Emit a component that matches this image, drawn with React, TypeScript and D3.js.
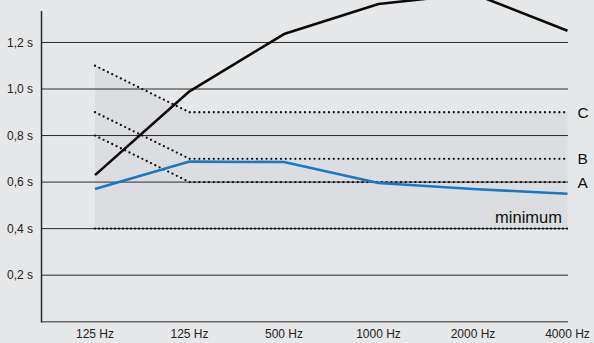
import React from "react";
import * as d3 from "d3";

const categories = ["125 Hz", "125 Hz", "500 Hz", "1000 Hz", "2000 Hz", "4000 Hz"];
const measuredBlack = [0.63, 0.99, 1.236, 1.365, 1.41, 1.25];
const measuredBlue = [0.57, 0.688, 0.686, 0.596, 0.57, 0.55];
const limitC = [1.1, 0.9, 0.9, 0.9, 0.9, 0.9];
const limitB = [0.9, 0.7, 0.7, 0.7, 0.7, 0.7];
const limitA = [0.8, 0.6, 0.6, 0.6, 0.6, 0.6];
const limitMin = [0.4, 0.4, 0.4, 0.4, 0.4, 0.4];
const yTicks = [0.2, 0.4, 0.6, 0.8, 1.0, 1.2];
const yTickLabels = ["0,2 s", "0,4 s", "0,6 s", "0,8 s", "1,0 s", "1,2 s"];

const W = 594;
const H = 343;
const FONT = "'Liberation Sans', Arial, Helvetica, sans-serif";

export default function App() {
  const idx = categories.map((_, i) => i);
  const x = d3.scalePoint<number>().domain(idx).range([95, 567.5]);
  const y0 = 321.7;
  const pxPer = 232.7;
  const y = d3.scaleLinear().domain([0, 1.4]).range([y0, y0 - 1.4 * pxPer]);
  const axisLeft = 41.5;
  const axisRight = 568;

  const line = d3
    .line<number>()
    .x((_, i) => x(i) as number)
    .y((d) => y(d));

  const area = d3
    .area<number>()
    .x((_, i) => x(i) as number)
    .y0((_, i) => y(limitMin[i]))
    .y1((d) => y(d));

  const dotted = (gap: number) => ({
    fill: "none",
    stroke: "#111",
    strokeWidth: 2.3,
    strokeLinecap: "round" as const,
    strokeDasharray: `0 ${gap}`,
  });

  const last = idx.length - 1;

  return (
    <svg
      width={W}
      height={H}
      style={{ position: "absolute", left: 0, top: 0, display: "block" }}
      fontFamily={FONT}
    >
      <rect x={0} y={0} width={W} height={H} fill="#e6e7e9" />
      <path d={area(limitC) as string} fill="#dcdde0" />
      {yTicks.map((t, i) => (
        <g key={t}>
          <line
            x1={axisLeft}
            x2={axisRight}
            y1={y(t)}
            y2={y(t)}
            stroke="#2a2a2a"
            strokeWidth={1}
          />
          <text
            x={33}
            y={y(t)}
            dy="0.35em"
            textAnchor="end"
            fontSize={12}
            fill="#222"
          >
            {yTickLabels[i]}
          </text>
        </g>
      ))}
      <line x1={axisLeft} x2={axisRight} y1={y0} y2={y0} stroke="#666" strokeWidth={1.5} />
      <line x1={axisLeft} x2={axisLeft} y1={11} y2={y0 + 0.75} stroke="#2a2a2a" strokeWidth={1.5} />
      {categories.map((c, i) => (
        <text
          key={i}
          x={x(i) as number}
          y={338}
          textAnchor="middle"
          fontSize={12}
          fill="#222"
        >
          {c}
        </text>
      ))}
      <path d={line(limitMin) as string} {...dotted(4)} />
      <path d={line(limitA) as string} {...dotted(4.8)} />
      <path d={line(limitB) as string} {...dotted(4.8)} />
      <path d={line(limitC) as string} {...dotted(4.8)} />
      <path d={line(measuredBlue) as string} fill="none" stroke="#1778c4" strokeWidth={2.6} strokeLinejoin="round" />
      <path d={line(measuredBlack) as string} fill="none" stroke="#0a0a0a" strokeWidth={2.6} strokeLinejoin="round" />
      <text x={(x(last) as number) + 10} y={y(limitC[last])} dy="0.36em" fontSize={15.5} fill="#111">C</text>
      <text x={(x(last) as number) + 10} y={y(limitB[last])} dy="0.36em" fontSize={15.5} fill="#111">B</text>
      <text x={(x(last) as number) + 10} y={y(limitA[last])} dy="0.36em" fontSize={15.5} fill="#111">A</text>
      <text x={562} y={223} textAnchor="end" fontSize={16.5} fill="#111">minimum</text>
    </svg>
  );
}
